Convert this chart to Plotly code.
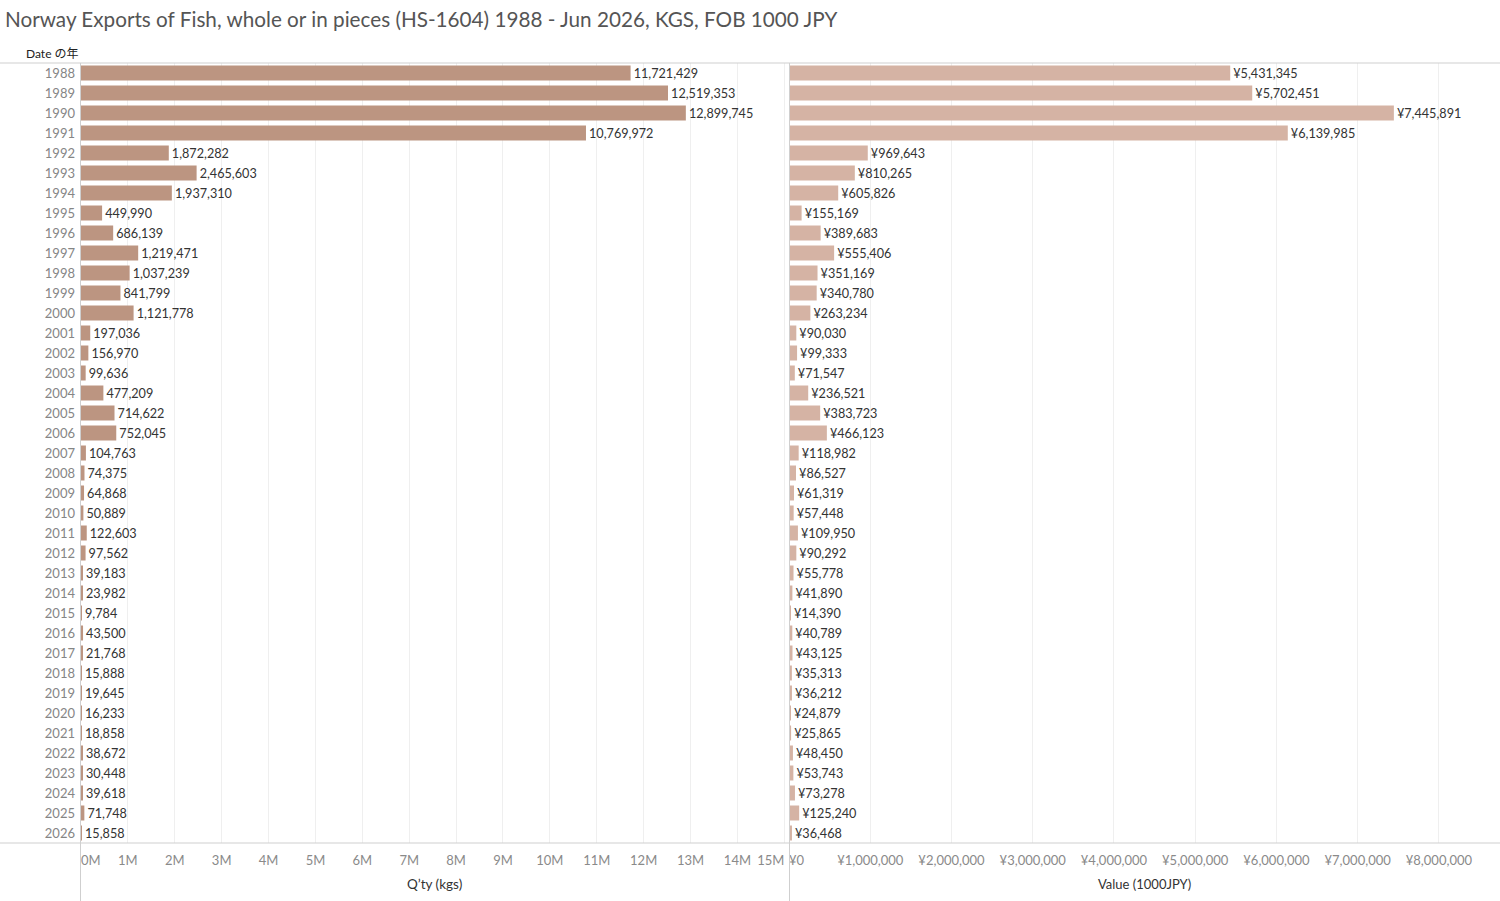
import plotly.graph_objects as go
from plotly.subplots import make_subplots

# Norway exports of fish, HS-1604, by year
years = [str(y) for y in range(1988, 2027)]
qty_kgs = [11721429, 12519353, 12899745, 10769972, 1872282, 2465603, 1937310,
           449990, 686139, 1219471, 1037239, 841799, 1121778, 197036, 156970,
           99636, 477209, 714622, 752045, 104763, 74375, 64868, 50889, 122603,
           97562, 39183, 23982, 9784, 43500, 21768, 15888, 19645, 16233, 18858,
           38672, 30448, 39618, 71748, 15858]
value_jpy = [5431345, 5702451, 7445891, 6139985, 969643, 810265, 605826,
             155169, 389683, 555406, 351169, 340780, 263234, 90030, 99333,
             71547, 236521, 383723, 466123, 118982, 86527, 61319, 57448, 109950,
             90292, 55778, 41890, 14390, 40789, 43125, 35313, 36212, 24879,
             25865, 48450, 53743, 73278, 125240, 36468]
qty_ticks = list(range(0, 16))
value_ticks = list(range(0, 9))

W, H = 1500, 901
FONT = "Lato, Noto Sans CJK JP, sans-serif"
LINE = "#cfcfcf"
QTY_MAX = 15.1e6
VAL_MAX = 8.74e6

def px_x(p):
    return p / W

def px_y(p):
    return 1 - p / H

LEFT_DOM = [px_x(81), px_x(789)]
RIGHT_DOM = [px_x(789), px_x(1499)]
TICKFONT = dict(size=13, color="#8a8a8a")

# inner labels centred on the gridline; the end labels get their own
# overlay axes so they can be pushed inward like tableau does
qty_text = [f"{t}M" for t in qty_ticks]
qty_text_mid = [""] + qty_text[1:-1] + [""]
value_text = [f"¥{t * 1000000:,}" for t in value_ticks]
value_text_mid = [""] + value_text[1:]

fig = make_subplots(rows=1, cols=2, shared_yaxes=True)

fig.add_trace(go.Bar(
    y=years, x=qty_kgs, orientation="h",
    marker_color="#bc9581", marker_line_width=0,
    texttemplate="%{x:,}", textposition="outside",
    textfont=dict(size=13.5, color="#333333"), cliponaxis=False,
), row=1, col=1)

fig.add_trace(go.Bar(
    y=years, x=value_jpy, orientation="h",
    marker_color="#d5b3a4", marker_line_width=0,
    texttemplate="¥%{x:,}", textposition="outside",
    textfont=dict(size=13.5, color="#333333"), cliponaxis=False,
), row=1, col=2)

# empty traces so the overlay axes get drawn
for xa, ya in (("x3", "y"), ("x4", "y"), ("x5", "y2")):
    fig.add_trace(go.Scatter(x=[], y=[], xaxis=xa, yaxis=ya,
                             showlegend=False, hoverinfo="skip"))

fig.update_layout(
    width=W, height=H,
    margin=dict(l=0, r=0, t=0, b=0, autoexpand=False),
    paper_bgcolor="white", plot_bgcolor="white",
    showlegend=False, bargap=0.25,
    font=dict(family=FONT, size=13, color="#333333"),
    title=dict(text="Norway Exports of Fish, whole or in pieces (HS-1604) 1988 - Jun 2026, KGS, FOB 1000 JPY",
               x=px_x(5), xanchor="left", y=px_y(20), yanchor="middle",
               font=dict(size=20.7, color="#555555")),
    uniformtext=dict(minsize=13),
    xaxis3=dict(overlaying="x", anchor="y", side="bottom", domain=LEFT_DOM,
                range=[0, QTY_MAX], tickvals=[0], ticktext=[qty_text[0]],
                ticklabelposition="outside right", showgrid=False, zeroline=False,
                ticks="", tickfont=TICKFONT, ticklabelstandoff=8, automargin=False),
    xaxis4=dict(overlaying="x", anchor="y", side="bottom", domain=LEFT_DOM,
                range=[0, QTY_MAX], tickvals=[qty_ticks[-1] * 1e6], ticktext=[qty_text[-1]],
                ticklabelposition="outside left", showgrid=False, zeroline=False,
                ticks="", tickfont=TICKFONT, ticklabelstandoff=8, automargin=False),
    xaxis5=dict(overlaying="x2", anchor="y2", side="bottom", domain=RIGHT_DOM,
                range=[0, VAL_MAX], tickvals=[0], ticktext=[value_text[0]],
                ticklabelposition="outside right", showgrid=False, zeroline=False,
                ticks="", tickfont=TICKFONT, ticklabelstandoff=8, automargin=False),
)

fig.update_xaxes(
    domain=LEFT_DOM, range=[0, QTY_MAX],
    tickvals=[t * 1e6 for t in qty_ticks], ticktext=qty_text_mid,
    showgrid=True, gridcolor="#efefef", zeroline=False, showline=False,
    tickfont=TICKFONT, ticks="", ticklabelstandoff=8,
    automargin=False, row=1, col=1)
fig.update_xaxes(
    domain=RIGHT_DOM, range=[0, VAL_MAX],
    tickvals=[t * 1e6 for t in value_ticks], ticktext=value_text_mid,
    showgrid=True, gridcolor="#efefef", zeroline=False, showline=False,
    tickfont=TICKFONT, ticks="", ticklabelstandoff=8,
    automargin=False, row=1, col=2)
fig.update_yaxes(domain=[px_y(843), px_y(63)], autorange="reversed", type="category",
                 showgrid=False, zeroline=False, ticks="", automargin=False,
                 ticklabelstandoff=5, tickfont=dict(size=13, color="#858585"))
fig.update_yaxes(showticklabels=False, row=1, col=2)

# frame lines
fig.add_shape(type="line", xref="paper", yref="paper", x0=0, x1=1,
              y0=px_y(63), y1=px_y(63), line=dict(color=LINE, width=1))
fig.add_shape(type="line", xref="paper", yref="paper", x0=0, x1=1,
              y0=px_y(843), y1=px_y(843), line=dict(color=LINE, width=1))
for xv in (80.5, 789.5):
    fig.add_shape(type="line", xref="paper", yref="paper", x0=px_x(xv), x1=px_x(xv),
                  y0=px_y(63), y1=0, line=dict(color=LINE, width=1))

fig.add_annotation(text="Date の年", xref="paper", yref="paper",
                   x=px_x(24), y=px_y(53), xanchor="left", yanchor="middle",
                   showarrow=False, font=dict(size=12, color="#222222"))
fig.add_annotation(text="Q’ty (kgs)", xref="paper", yref="paper",
                   x=px_x(435), y=px_y(884), xanchor="center", yanchor="middle",
                   showarrow=False, font=dict(size=13.5, color="#333333"))
fig.add_annotation(text="Value (1000JPY)", xref="paper", yref="paper",
                   x=px_x(1144), y=px_y(884), xanchor="center", yanchor="middle",
                   showarrow=False, font=dict(size=13, color="#333333"))

fig.write_html("out.html", config={"displayModeBar": False},
               post_script="document.body.style.margin='0';")
